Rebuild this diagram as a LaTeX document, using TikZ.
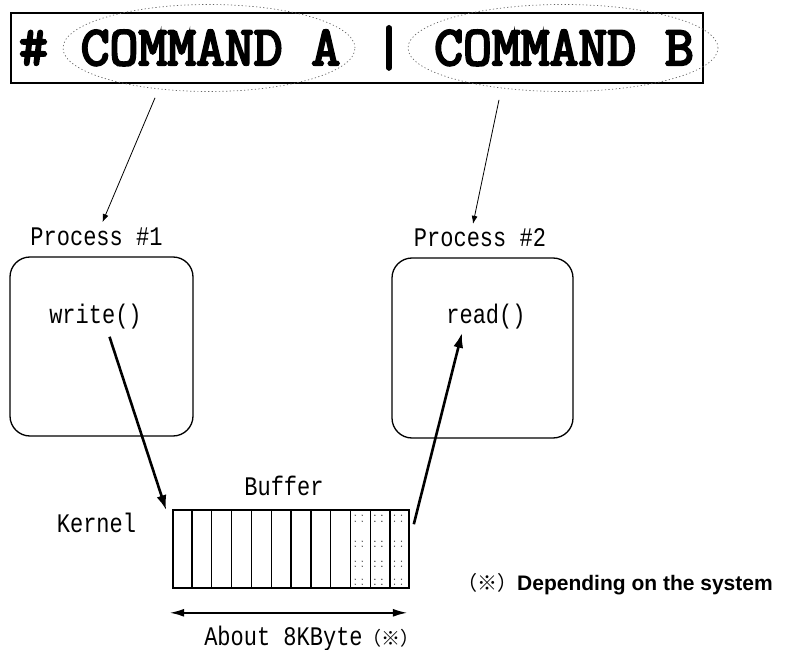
\documentclass[tikz,border=0pt]{standalone}
\usepackage{fontspec}
\usepackage{graphicx}
\usetikzlibrary{shapes.geometric,arrows.meta,calc}
\newfontfamily\labfont{Liberation Mono}
\newfontfamily\notefont{Liberation Sans}
\newfontfamily\cjkfont{Noto Sans CJK JP}
\newfontfamily\cmdfont{Latin Modern Mono}[FakeBold=4]
% monospaced labels, slightly stretched upward
\newcommand\tallmono[1]{\scalebox{1}[1.22]{\labfont #1}}
\begin{document}
\begin{tikzpicture}[x=1pt,y=-1pt,
  cmd/.style={font=\fontsize{56}{60}\selectfont\cmdfont, inner sep=0pt, anchor=base},
  lab/.style={font=\fontsize{22}{24}\selectfont, inner sep=0pt, anchor=base},
  pick/.style={ellipse, draw=black!60, line width=0.7pt, dash pattern=on 1.2pt off 2.4pt, inner sep=0pt},
  procbox/.style={draw, rounded corners=20pt, line width=1.3pt, inner sep=0pt},
  thinarrow/.style={line width=0.8pt, -{Latex[length=8pt,width=6pt]}},
  flow/.style={line width=2.6pt, -{Latex[length=15pt,width=10pt]}},
  span/.style={line width=2.2pt, {Latex[length=15pt,width=8pt]}-{Latex[length=15pt,width=8pt]}}]
\useasboundingbox (0,0) rectangle (785,650);

% command line
\node[draw, line width=1.3pt, minimum width=692pt, minimum height=70pt, inner sep=0pt] (cmdline) at (357,48) {};
\node[cmd] (hash) at (33.5,65) {\#};
\node[cmd] (cmdA) at (210.5,65) {COMMAND A};
\node[cmd] (bar) at (389,65) {|};
\node[cmd] (cmdB) at (564,65) {COMMAND B};
\node[pick, minimum width=292pt, minimum height=87pt] (ellA) at (209,48) {};
\node[pick, minimum width=310pt, minimum height=87pt] (ellB) at (563,48) {};

% processes
\node[lab] (p1lab) at (96.5,245) {\tallmono{Process \#1}};
\node[lab] (p2lab) at (480,247) {\tallmono{Process \#2}};
\node[procbox, minimum width=183pt, minimum height=179pt] (proc1) at (101.5,346.5) {};
\node[procbox, minimum width=181pt, minimum height=180pt] (proc2) at (482.5,348) {};
\node[lab] (wr) at (95.5,323) {\tallmono{write()}};
\node[lab] (rd) at (486,323) {\tallmono{read()}};

\draw[thinarrow] ($(ellA.south)+(-54,6)$) -- ($(p1lab.north)+(6,-5)$);
\draw[thinarrow] ($(ellB.south)+(-64,8)$) -- ($(p2lab.north)+(-7,-5)$);

% kernel buffer
\node[lab] (bufl) at (284,495) {\tallmono{Buffer}};
\node[lab] (kern) at (96.5,532) {\tallmono{Kernel}};
\node[draw, line width=1.6pt, minimum width=236pt, minimum height=78pt, inner sep=0pt] (buf) at (291,549) {};
\foreach \i in {1,...,11}
  \draw[line width=1.4pt] ($(buf.north west)!\i/12!(buf.north east)$) -- ($(buf.south west)!\i/12!(buf.south east)$);
% filled slots
\foreach \c in {9,10,11}
  \foreach \dx in {6,13}
    \foreach \yy in {516,522,542,547,562,567,580,585}
      \fill[black!80] ($(buf.north west)+(\c*19.667+\dx,\yy-510)$) circle (0.7pt);

\draw[flow] ($(wr.south)+(14,8)$) -- ($(buf.north west)+(-6,1)$);
\draw[flow] ($(buf.north east)+(4,15)$) -- ($(rd.south)+(-24,4)$);

% size
\coordinate (sl) at ($(buf.south west)+(-3,24)$);
\coordinate (sr) at ($(buf.south east)+(-2,24)$);
\draw[span] (sl) -- (sr);
\node[lab] (size) at (312,645) {\tallmono{About 8KByte}{\fontsize{19}{21}\selectfont\cjkfont （※）}};

\node[inner sep=0pt, anchor=base west] (note) at (457,590) {{\fontsize{20}{22}\selectfont\cjkfont （※）}\fontsize{21}{24}\selectfont\notefont\bfseries Depending on the system};
\end{tikzpicture}
\end{document}
